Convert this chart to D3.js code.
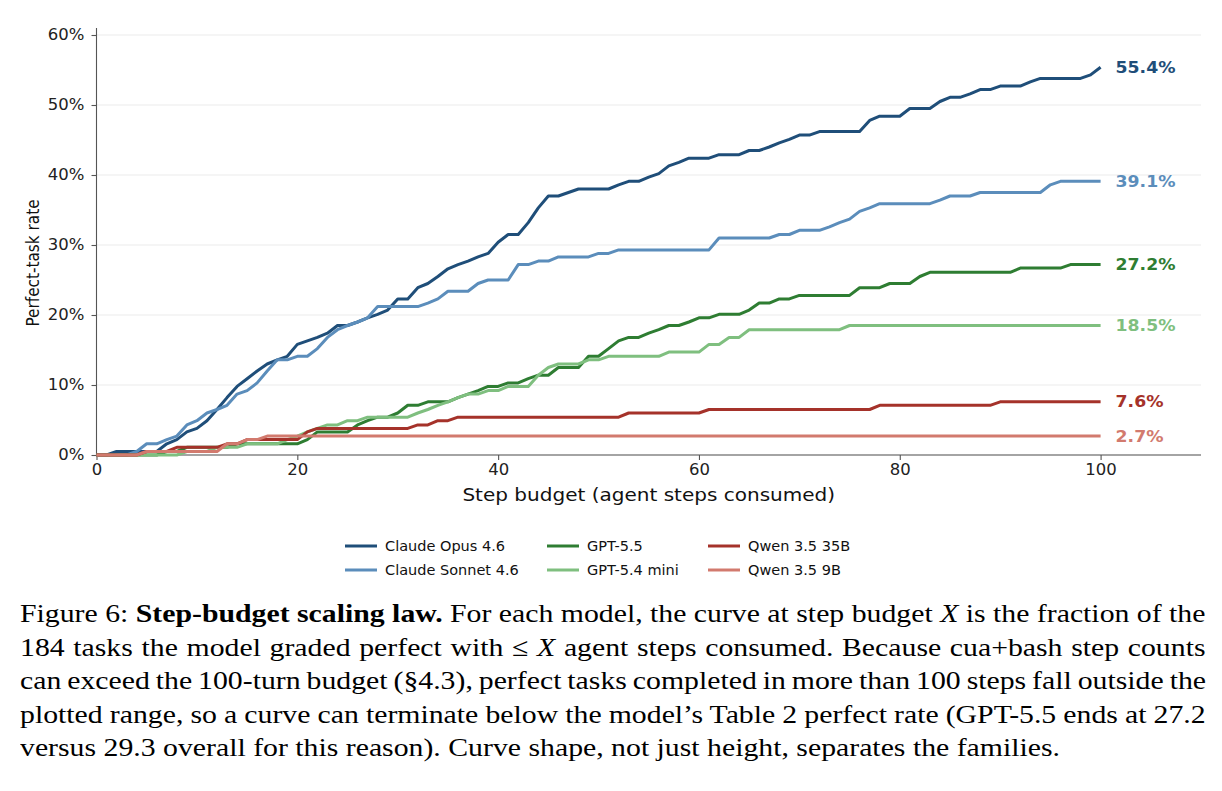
<!DOCTYPE html>
<html><head><meta charset="utf-8">
<script src="https://cdn.jsdelivr.net/npm/d3@7"></script>
<style>
body{margin:0;background:#fff;width:1222px;height:791px;overflow:hidden;position:relative;font-family:"DejaVu Sans",sans-serif;}
svg{position:absolute;left:0;top:0;}
#cap{position:absolute;left:20px;top:597px;font-family:"Liberation Serif",serif;font-size:26px;line-height:33.5px;color:#000;transform-origin:0 0;}
#cap div{white-space:nowrap;}
#cap span{display:inline-block;white-space:nowrap;}
</style></head>
<body>
<div id="chart"></div>
<div id="cap">
<div><span class="j">Figure 6: <b>Step-budget scaling law.</b> For each model, the curve at step budget <i>X</i> is the fraction of the</span></div>
<div><span class="j">184 tasks the model graded perfect with ≤ <i>X</i> agent steps consumed. Because cua+bash step counts</span></div>
<div><span class="j">can exceed the 100-turn budget (§4.3), perfect tasks completed in more than 100 steps fall outside the</span></div>
<div><span class="j">plotted range, so a curve can terminate below the model’s Table 2 perfect rate (GPT-5.5 ends at 27.2</span></div>
<div><span>versus 29.3 overall for this reason). Curve shape, not just height, separates the families.</span></div>
</div>
<script>
// Step budget 0..100, perfect-task rate in %
const opus = [
 0,0,0.5,0.5,0.5,0.5,0.5,1.6,2.2,3.3,
 3.8,4.9,6.5,8.2,9.8,10.9,12.0,13.0,13.6,14.1,
 15.8,16.3,16.8,17.4,18.5,18.5,19.0,19.6,20.1,20.7,
 22.3,22.3,23.9,24.5,25.5,26.6,27.2,27.7,28.3,28.8,
 30.4,31.5,31.5,33.2,35.3,37.0,37.0,37.5,38.0,38.0,
 38.0,38.0,38.6,39.1,39.1,39.7,40.2,41.3,41.8,42.4,
 42.4,42.4,42.9,42.9,42.9,43.5,43.5,44.0,44.6,45.1,
 45.7,45.7,46.2,46.2,46.2,46.2,46.2,47.8,48.4,48.4,
 48.4,49.5,49.5,49.5,50.5,51.1,51.1,51.6,52.2,52.2,
 52.7,52.7,52.7,53.3,53.8,53.8,53.8,53.8,53.8,54.3,
 55.4];
const sonnet = [
 0,0,0,0,0.5,1.6,1.6,2.2,2.7,4.3,
 4.9,6.0,6.5,7.1,8.7,9.2,10.3,12.0,13.6,13.6,
 14.1,14.1,15.2,16.8,17.9,18.5,19.0,19.6,21.2,21.2,
 21.2,21.2,21.2,21.7,22.3,23.4,23.4,23.4,24.5,25.0,
 25.0,25.0,27.2,27.2,27.7,27.7,28.3,28.3,28.3,28.3,
 28.8,28.8,29.3,29.3,29.3,29.3,29.3,29.3,29.3,29.3,
 29.3,29.3,31.0,31.0,31.0,31.0,31.0,31.0,31.5,31.5,
 32.1,32.1,32.1,32.6,33.2,33.7,34.8,35.3,35.9,35.9,
 35.9,35.9,35.9,35.9,36.4,37.0,37.0,37.0,37.5,37.5,
 37.5,37.5,37.5,37.5,37.5,38.6,39.1,39.1,39.1,39.1,
 39.1];
const gpt55 = [
 0,0,0,0,0,0,0,0.5,0.5,1.1,
 1.1,1.1,1.1,1.1,1.6,1.6,1.6,1.6,1.6,1.6,
 1.6,2.2,3.3,3.3,3.3,3.3,4.3,4.9,5.4,5.4,
 6.0,7.1,7.1,7.6,7.6,7.6,8.2,8.7,9.2,9.8,
 9.8,10.3,10.3,10.9,11.4,11.4,12.5,12.5,12.5,14.1,
 14.1,15.2,16.3,16.8,16.8,17.4,17.9,18.5,18.5,19.0,
 19.6,19.6,20.1,20.1,20.1,20.7,21.7,21.7,22.3,22.3,
 22.8,22.8,22.8,22.8,22.8,22.8,23.9,23.9,23.9,24.5,
 24.5,24.5,25.5,26.1,26.1,26.1,26.1,26.1,26.1,26.1,
 26.1,26.1,26.7,26.7,26.7,26.7,26.7,27.2,27.2,27.2,
 27.2];
const gpt54mini = [
 0,0,0,0,0,0,0,0,0,0.5,
 0.5,0.5,1.1,1.1,1.1,1.6,1.6,1.6,1.6,2.2,
 2.7,3.3,3.8,4.3,4.3,4.9,4.9,5.4,5.4,5.4,
 5.4,5.4,6.0,6.5,7.1,7.6,8.2,8.7,8.7,9.2,
 9.2,9.8,9.8,9.8,11.4,12.5,13.0,13.0,13.0,13.6,
 13.6,14.1,14.1,14.1,14.1,14.1,14.1,14.7,14.7,14.7,
 14.7,15.8,15.8,16.8,16.8,17.9,17.9,17.9,17.9,17.9,
 17.9,17.9,17.9,17.9,17.9,18.5,18.5,18.5,18.5,18.5,
 18.5,18.5,18.5,18.5,18.5,18.5,18.5,18.5,18.5,18.5,
 18.5,18.5,18.5,18.5,18.5,18.5,18.5,18.5,18.5,18.5,
 18.5];
const qwen35b = [
 0,0,0,0,0,0.5,0.5,0.5,1.1,1.1,
 1.1,1.1,1.1,1.6,1.6,2.2,2.2,2.2,2.2,2.2,
 2.2,3.3,3.8,3.8,3.8,3.8,3.8,3.8,3.8,3.8,
 3.8,3.8,4.3,4.3,4.9,4.9,5.4,5.4,5.4,5.4,
 5.4,5.4,5.4,5.4,5.4,5.4,5.4,5.4,5.4,5.4,
 5.4,5.4,5.4,6.0,6.0,6.0,6.0,6.0,6.0,6.0,
 6.0,6.5,6.5,6.5,6.5,6.5,6.5,6.5,6.5,6.5,
 6.5,6.5,6.5,6.5,6.5,6.5,6.5,6.5,7.1,7.1,
 7.1,7.1,7.1,7.1,7.1,7.1,7.1,7.1,7.1,7.1,
 7.6,7.6,7.6,7.6,7.6,7.6,7.6,7.6,7.6,7.6,
 7.6];
const qwen9b = [
 0,0,0,0,0,0.5,0.5,0.5,0.5,0.5,
 0.5,0.5,0.5,1.6,1.6,2.2,2.2,2.7,2.7,2.7,
 2.7,2.7,2.7,2.7,2.7,2.7,2.7,2.7,2.7,2.7,
 2.7,2.7,2.7,2.7,2.7,2.7,2.7,2.7,2.7,2.7,
 2.7,2.7,2.7,2.7,2.7,2.7,2.7,2.7,2.7,2.7,
 2.7,2.7,2.7,2.7,2.7,2.7,2.7,2.7,2.7,2.7,
 2.7,2.7,2.7,2.7,2.7,2.7,2.7,2.7,2.7,2.7,
 2.7,2.7,2.7,2.7,2.7,2.7,2.7,2.7,2.7,2.7,
 2.7,2.7,2.7,2.7,2.7,2.7,2.7,2.7,2.7,2.7,
 2.7,2.7,2.7,2.7,2.7,2.7,2.7,2.7,2.7,2.7,
 2.7];
const seriesNames = ["Claude Opus 4.6","Claude Sonnet 4.6","GPT-5.5","GPT-5.4 mini","Qwen 3.5 35B","Qwen 3.5 9B"];
const seriesValues = [opus, sonnet, gpt55, gpt54mini, qwen35b, qwen9b];
const finalLabels = ["55.4%","39.1%","27.2%","18.5%","7.6%","2.7%"];
const colors = ["#1f4e79","#5b8dbb","#2e7d32","#7fbf7f","#a5322a","#d27a6e"];
const yTicks = [0,10,20,30,40,50,60];
const xTicks = [0,20,40,60,80,100];

const K = 1.1;      // horizontal text stretch of chart text
const KCAP = 1.145; // horizontal stretch of caption text
const W=1222, H=590;
const svg = d3.select("#chart").append("svg").attr("width",W).attr("height",H);
const x = d3.scaleLinear().domain([0,110]).range([96.5,1201]);
const y = d3.scaleLinear().domain([0,61]).range([455,28]);

// grid
svg.append("g").selectAll("line").data(yTicks).join("line")
  .attr("x1",x(0)).attr("x2",x(110)).attr("y1",d=>y(d)).attr("y2",d=>y(d))
  .attr("stroke","#ebebeb").attr("stroke-width",1);

// axes
const yAxis = svg.append("g").attr("transform",`translate(${x(0)},0)`)
  .call(d3.axisLeft(y).tickValues(yTicks).tickFormat(d=>d+"%").tickSize(5).tickPadding(7));
const xAxis = svg.append("g").attr("transform",`translate(0,${y(0)})`)
  .call(d3.axisBottom(x).tickValues(xTicks).tickSize(5).tickPadding(4));
[yAxis,xAxis].forEach(a=>{
  a.select(".domain").attr("stroke","#555").attr("stroke-width",1.1);
  a.selectAll(".tick line").attr("stroke","#555").attr("stroke-width",1.1);
  a.selectAll(".tick text").attr("fill","#222").style("font-family","DejaVu Sans").style("font-size","15px");
});
yAxis.selectAll(".tick text").attr("x",0).attr("transform",`translate(-12,0) scale(${K},1)`);
xAxis.selectAll(".tick text").attr("transform",`scale(${K},1)`);
yAxis.select(".domain").attr("d",`M0,${y(61)}V${y(0)}`);
xAxis.select(".domain").attr("d",`M${x(0)},0H${x(110)}`);

// axis labels
svg.append("g").attr("transform",`translate(33,263) rotate(-90) scale(1,${K})`)
  .append("text").attr("text-anchor","middle").attr("dy","0.35em").style("font-size","15.3px").attr("fill","#111").text("Perfect-task rate");
svg.append("g").attr("transform",`translate(${(x(0)+x(110))/2},501) scale(${K},1)`)
  .append("text").attr("text-anchor","middle").style("font-size","18.2px").attr("fill","#111").text("Step budget (agent steps consumed)");

// lines
const line = d3.line().x((d,i)=>x(i)).y(d=>y(d));
svg.append("g").selectAll("path").data(seriesValues).join("path")
  .attr("d",line).attr("fill","none").attr("stroke",(d,i)=>colors[i])
  .attr("stroke-width",3).attr("stroke-linejoin","round").attr("stroke-linecap","butt");

// end labels
svg.append("g").selectAll("g").data(seriesValues).join("g")
  .attr("transform",d=>`translate(${x(100)+15},${y(d[d.length-1])}) scale(${K},1)`)
  .append("text").attr("dy","0.36em")
  .attr("fill",(d,i)=>colors[i]).style("font-weight","bold").style("font-size","15.7px")
  .text((d,i)=>finalLabels[i]);

// legend (column-major, 3 columns x 2 rows)
const colX=[345,547,708], rowY=[546,570];
const lg = svg.append("g").selectAll("g").data(seriesNames).join("g")
  .attr("transform",(d,i)=>`translate(${colX[Math.floor(i/2)]},${rowY[i%2]})`);
lg.append("line").attr("x1",0).attr("x2",32).attr("y1",0).attr("y2",0)
  .attr("stroke",(d,i)=>colors[i]).attr("stroke-width",3);
lg.append("g").attr("transform",`translate(40,0) scale(${K},1)`)
  .append("text").attr("dy","0.36em").style("font-size","13.2px").attr("fill","#111").text(d=>d);

// caption: stretched like the reference and justified line by line
const cap = document.getElementById("cap");
cap.style.transform = `scaleX(${KCAP})`;
const target = 1186 / KCAP;
cap.querySelectorAll("span.j").forEach(s=>{
  const w = s.offsetWidth;
  const n = (s.textContent.match(/ /g)||[]).length;
  s.style.wordSpacing = ((target - w)/n) + "px";
});
</script>
</body></html>
